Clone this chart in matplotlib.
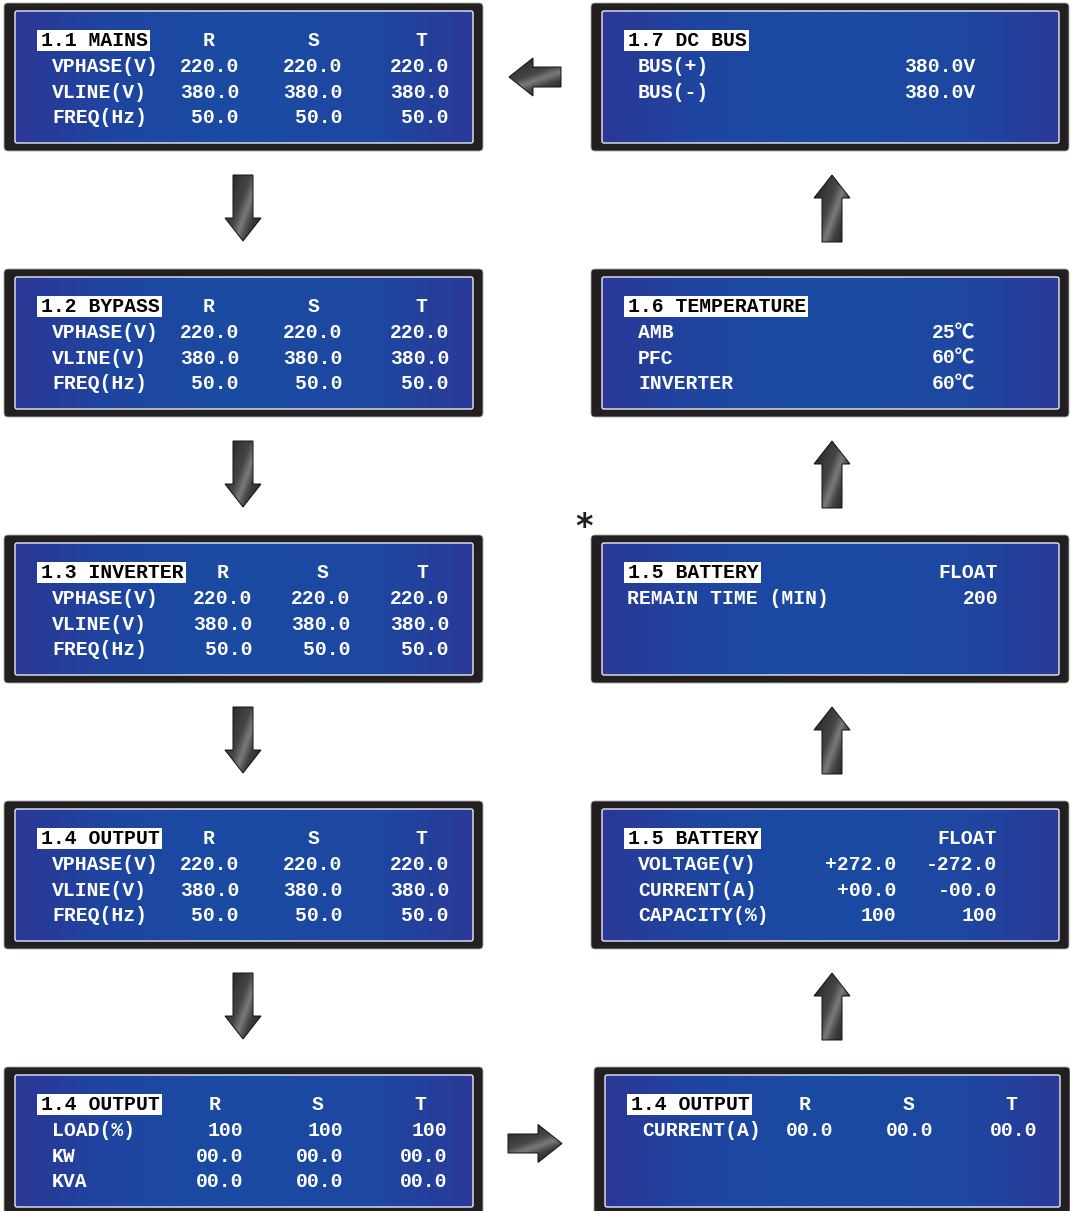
import numpy as np
import matplotlib
matplotlib.use("Agg")
import matplotlib.pyplot as plt
from matplotlib.patches import FancyBboxPatch, Rectangle, Polygon
from matplotlib.colors import LinearSegmentedColormap

# ---------------- data ----------------
phases = ["R", "S", "T"]
ac_rows = ["VPHASE(V)", "VLINE(V)", "FREQ(Hz)"]

mains_title = "1.1 MAINS"
mains_vphase = [220.0, 220.0, 220.0]
mains_vline = [380.0, 380.0, 380.0]
mains_freq = [50.0, 50.0, 50.0]

bypass_title = "1.2 BYPASS"
bypass_vphase = [220.0, 220.0, 220.0]
bypass_vline = [380.0, 380.0, 380.0]
bypass_freq = [50.0, 50.0, 50.0]

inverter_title = "1.3 INVERTER"
inverter_vphase = [220.0, 220.0, 220.0]
inverter_vline = [380.0, 380.0, 380.0]
inverter_freq = [50.0, 50.0, 50.0]

output_title = "1.4 OUTPUT"
output_vphase = [220.0, 220.0, 220.0]
output_vline = [380.0, 380.0, 380.0]
output_freq = [50.0, 50.0, 50.0]

load_rows = ["LOAD(%)", "KW", "KVA"]
output_load = [100, 100, 100]
output_kw = [0.0, 0.0, 0.0]
output_kva = [0.0, 0.0, 0.0]
current_row = "CURRENT(A)"
output_current = [0.0, 0.0, 0.0]

battery_title = "1.5 BATTERY"
battery_status = "FLOAT"
battery_rows = ["VOLTAGE(V)", "CURRENT(A)", "CAPACITY(%)"]
battery_voltage = [272.0, -272.0]
battery_current = [0.0, -0.0]
battery_capacity = [100, 100]
remain_row = "REMAIN TIME (MIN)"
battery_remain_min = 200

temp_title = "1.6 TEMPERATURE"
temp_rows = ["AMB", "PFC", "INVERTER"]
temps_c = [25, 60, 60]

bus_title = "1.7 DC BUS"
bus_rows = ["BUS(+)", "BUS(-)"]
bus_volts = [380.0, 380.0]

# ---------------- style ----------------
W, H = 1070, 1211
FONT = ["Liberation Mono", "Noto Sans CJK SC", "DejaVu Sans"]
FS = 14.2
FRAME = "#231f20"

fig = plt.figure(figsize=(W / 100, H / 100), dpi=100)
ax = fig.add_axes([0, 0, 1, 1])
ax.axis("off")
ax.set_xlim(0, W)
ax.set_ylim(H, 0)

blue_cmap = LinearSegmentedColormap.from_list(
    "lcd", ["#2b3795", "#1f45a0", "#1b4aa2", "#1b4aa2", "#1e47a1", "#2a3a97"])
arrow_cmap = LinearSegmentedColormap.from_list(
    "arr", ["#1a1a1a", "#2a2a2a", "#3a3a3a", "#454545", "#7a7a7a",
            "#404040", "#2c2c2c", "#1c1c1c"])

BASE = [43, 69, 94.5, 120]  # baseline offsets of the 4 text rows from panel top


def panel(x0, y0, x1):
    h = 148
    ax.add_patch(FancyBboxPatch((x0, y0), x1 - x0, h,
                                boxstyle="round,pad=0,rounding_size=4",
                                fc=FRAME, ec="#a8a8a8", lw=0.6, zorder=1))
    ix0, ix1, iy0, iy1 = x0 + 11, x1 - 10, y0 + 8, y0 + 140
    grad = np.linspace(0, 1, 256)[None, :]
    ax.imshow(grad, extent=(ix0, ix1, iy1, iy0), cmap=blue_cmap,
              aspect="auto", interpolation="bilinear", zorder=2)
    ax.add_patch(FancyBboxPatch((ix0, iy0), ix1 - ix0, iy1 - iy0,
                                boxstyle="round,pad=0,rounding_size=2",
                                fc="none", ec="#e6eaf4", lw=1.0, zorder=3))


def txt(x, y, s, ha="left", color="white", zorder=5):
    return ax.text(x, y, s, ha=ha, va="baseline", fontsize=FS,
                   fontweight="bold", family=FONT, color=color, zorder=zorder)


renderer = fig.canvas.get_renderer()


def header(x0, y0, s):
    t = txt(x0 + 37, y0 + BASE[0], s, color="black", zorder=6)
    bb = t.get_window_extent(renderer=renderer)
    xr = ax.transData.inverted().transform((bb.x1, 0))[0]
    bx0 = x0 + 33
    ax.add_patch(Rectangle((bx0, y0 + 27), xr + 2 - bx0, 21,
                           fc="white", ec="none", zorder=5))


def three_phase(x0, y0, title, rows, values, hdr_x, val_x, lab_x=48):
    header(x0, y0, title)
    for p, hx in zip(phases, hdr_x):
        txt(x0 + hx, y0 + BASE[0], p, ha="center")
    for i, (lab, vals) in enumerate(zip(rows, values)):
        txt(x0 + lab_x, y0 + BASE[i + 1], lab)
        for v, vx in zip(vals, val_x):
            txt(x0 + vx, y0 + BASE[i + 1], v, ha="right")


def f1(vals):
    return ["%.1f" % v for v in vals]


def f0(vals):
    return ["%04.1f" % v for v in vals]


# ---------------- left column ----------------
LX0, LX1 = 4, 483
tops = [3, 269, 535, 801, 1067]
for y in tops:
    panel(LX0, y, LX1)

hx_a, vx_a = [205, 310, 417], [235, 338, 445]
three_phase(LX0, tops[0], mains_title, ac_rows,
            [f1(mains_vphase), f1(mains_vline), f1(mains_freq)], hx_a, vx_a)
three_phase(LX0, tops[1], bypass_title, ac_rows,
            [f1(bypass_vphase), f1(bypass_vline), f1(bypass_freq)], hx_a, vx_a)
three_phase(LX0, tops[2], inverter_title, ac_rows,
            [f1(inverter_vphase), f1(inverter_vline), f1(inverter_freq)],
            [219, 319, 418], [248, 346, 445])
three_phase(LX0, tops[3], output_title, ac_rows,
            [f1(output_vphase), f1(output_vline), f1(output_freq)], hx_a, vx_a)
three_phase(LX0, tops[4], output_title, load_rows,
            [[str(v) for v in output_load], f0(output_kw), f0(output_kva)],
            [211, 314, 416], [239, 339, 443])

# ---------------- right column ----------------
RX0, RX1 = 591, 1069
panel(RX0, tops[0], RX1)
header(RX0, tops[0], bus_title)
for i, (lab, v) in enumerate(zip(bus_rows, bus_volts)):
    txt(RX0 + 47, tops[0] + BASE[i + 1], lab)
    txt(RX0 + 384, tops[0] + BASE[i + 1], "%.1fV" % v, ha="right")

panel(RX0, tops[1], RX1)
header(RX0, tops[1], temp_title)
for i, (lab, v) in enumerate(zip(temp_rows, temps_c)):
    txt(RX0 + 47, tops[1] + BASE[i + 1], lab)
    txt(RX0 + 384, tops[1] + BASE[i + 1], "%d\u2103" % v, ha="right")

panel(RX0, tops[2], RX1)
header(RX0, tops[2], battery_title)
txt(RX0 + 407, tops[2] + BASE[0], battery_status, ha="right")
txt(RX0 + 36, tops[2] + BASE[1], remain_row)
txt(RX0 + 407, tops[2] + BASE[1], str(battery_remain_min), ha="right")
ax.text(584, 537, "*", fontsize=24, ha="center", va="baseline",
        family="DejaVu Sans", fontweight="bold", color=FRAME)

panel(RX0, tops[3], RX1)
header(RX0, tops[3], battery_title)
txt(RX0 + 406, tops[3] + BASE[0], battery_status, ha="right")
bat_vals = [["%+.1f" % v for v in battery_voltage],
            ["%+05.1f" % v for v in battery_current],
            [str(v) for v in battery_capacity]]
for i, (lab, vals) in enumerate(zip(battery_rows, bat_vals)):
    txt(RX0 + 47, tops[3] + BASE[i + 1], lab)
    for v, vx in zip(vals, [305, 406]):
        txt(RX0 + vx, tops[3] + BASE[i + 1], v, ha="right")

BX0, BX1 = 594, 1070
panel(BX0, tops[4], BX1)
three_phase(BX0, tops[4], output_title, [current_row], [f0(output_current)],
            [211, 315, 417], [239, 339, 443], lab_x=48)


# ---------------- arrows ----------------
def draw_arrow(pts, angle):
    pts = np.asarray(pts, float)
    poly = Polygon(pts, closed=True, fc="none", ec="#111111", lw=0.7, zorder=4)
    ax.add_patch(poly)
    xmin, ymin = pts.min(axis=0)
    xmax, ymax = pts.max(axis=0)
    xs = np.linspace(xmin, xmax, 120)
    ys = np.linspace(ymin, ymax, 120)
    X, Y = np.meshgrid(xs, ys)
    a = np.deg2rad(angle)
    Z = (X - xmin) * np.cos(a) + (Y - ymin) * np.sin(a)
    Z = (Z - Z.min()) / (Z.max() - Z.min())
    im = ax.imshow(Z, extent=(xmin, xmax, ymax, ymin), cmap=arrow_cmap,
                   aspect="auto", interpolation="bilinear", zorder=3)
    im.set_clip_path(poly)


def down_arrow(cx, y0, y1, sw=10, hw=18, hl=23):
    draw_arrow([(cx - sw, y0), (cx + sw, y0), (cx + sw, y1 - hl), (cx + hw, y1 - hl),
                (cx, y1), (cx - hw, y1 - hl), (cx - sw, y1 - hl)], 20)


def up_arrow(cx, y0, y1, sw=10, hw=18, hl=23):
    draw_arrow([(cx - sw, y1), (cx + sw, y1), (cx + sw, y0 + hl), (cx + hw, y0 + hl),
                (cx, y0), (cx - hw, y0 + hl), (cx - sw, y0 + hl)], 20)


def horiz_arrow(x_tail, x_base, x_tip, cy, sw=10, hw=19):
    draw_arrow([(x_tail, cy - sw), (x_base, cy - sw), (x_base, cy - hw), (x_tip, cy),
                (x_base, cy + hw), (x_base, cy + sw), (x_tail, cy + sw)], 70)


for k in range(4):
    down_arrow(243, 175 + 266 * k, 241 + 266 * k)
    up_arrow(832, 175 + 266 * k, 242 + 266 * k)

horiz_arrow(561, 533, 509, 77)
horiz_arrow(508, 538, 562, 1143.5, sw=9.5)

ax.set_xlim(0, W)
ax.set_ylim(H, 0)
fig.savefig("out.png", dpi=100, facecolor="white")
